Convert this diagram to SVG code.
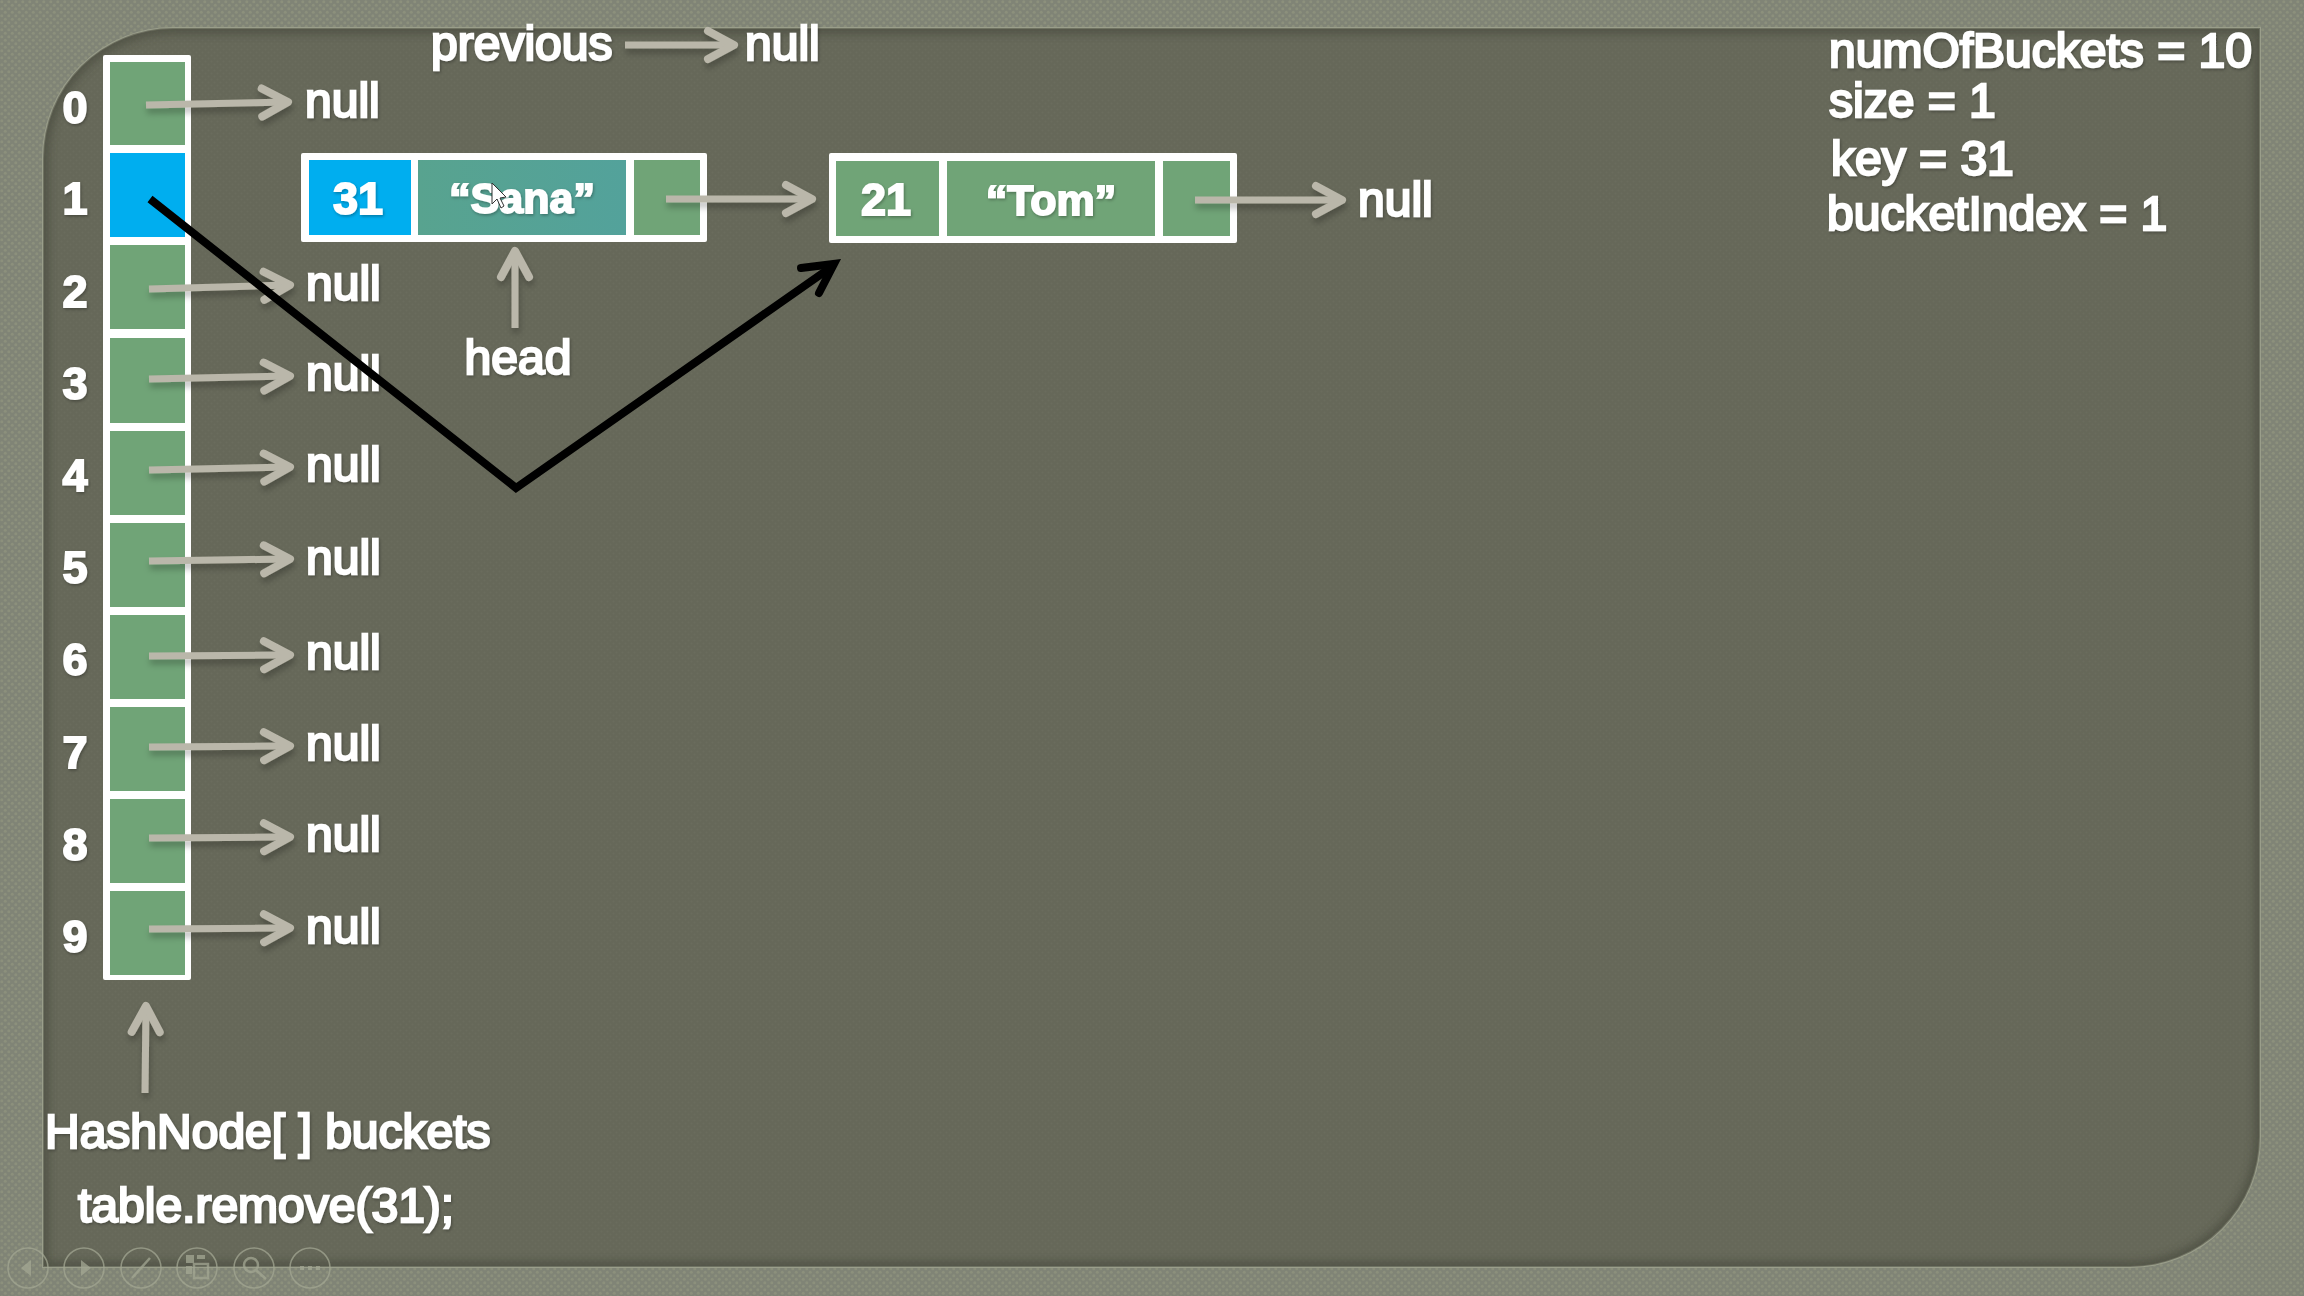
<svg xmlns="http://www.w3.org/2000/svg" width="2304" height="1296" viewBox="0 0 2304 1296">
<style>
text{font-family:"Liberation Sans",Arial,sans-serif;fill:#fff;stroke:#fff}
.t{font-size:48px;stroke-width:2.4px;filter:url(#ts)}
.b{font-size:45px;font-weight:700;stroke-width:1.8px;text-anchor:middle;filter:url(#ts)}
.n{font-size:43px}
.m{text-anchor:middle}
.g{fill:#70a477}
.bl{fill:#00aeef}
.w{fill:#fff}
.a{fill:none;stroke:#bab7aa;stroke-width:7;marker-end:url(#ah)}
.k{fill:none;stroke:#000;stroke-width:8;stroke-linejoin:miter}
.tb circle{fill:none;stroke:#a3a793;stroke-width:1.5}
.tb .i{fill:#a3a793;stroke:none}
.tb .l{fill:none;stroke:#a3a793;stroke-width:2.5}
</style>
<defs>
<pattern id="fp" width="7" height="7" patternUnits="userSpaceOnUse"><rect width="7" height="7" fill="#808476"/><circle cx="1.8" cy="1.8" r="1.5" fill="#8c907c"/><circle cx="5.3" cy="5.3" r="1.5" fill="#8c907c"/></pattern>
<pattern id="pp" width="6" height="6" patternUnits="userSpaceOnUse"><rect width="6" height="6" fill="#666859"/><circle cx="1.5" cy="1.5" r="1" fill="#6a6c5d"/><circle cx="4.5" cy="4.5" r="1" fill="#6a6c5d"/></pattern>
<linearGradient id="sg" x1="0" y1="0" x2="1" y2="0"><stop offset="0" stop-color="#58a38f"/><stop offset="1" stop-color="#53a29b"/></linearGradient>
<filter id="ts" x="-10%" y="-20%" width="120%" height="140%"><feDropShadow dx="1" dy="1.5" stdDeviation="1.5" flood-color="#000" flood-opacity=".3"/></filter>
<filter id="as" x="-10%" y="-50%" width="125%" height="200%"><feDropShadow dx="1" dy="5" stdDeviation="3" flood-color="#000" flood-opacity=".25"/></filter>
<filter id="bs" x="-10%" y="-10%" width="120%" height="120%"><feGaussianBlur stdDeviation="5"/></filter>
<clipPath id="pc"><path d="M173 28H2260V1137A130 130 0 0 1 2130 1267H43V158A130 130 0 0 1 173 28Z"/></clipPath>
<marker id="ah" markerUnits="userSpaceOnUse" markerWidth="44" markerHeight="44" refX="34" refY="22" orient="auto" overflow="visible"><path d="M8 8L34 22L8 36" fill="none" stroke="#bab7aa" stroke-width="8" stroke-linecap="round" stroke-linejoin="round"/></marker>
</defs>
<g id="background">
<rect width="2304" height="1296" fill="url(#fp)"/>
<path d="M173 28H2260V1137A130 130 0 0 1 2130 1267H43V158A130 130 0 0 1 173 28Z" fill="url(#pp)" stroke="#9a9e8b" stroke-width="2"/>
<g clip-path="url(#pc)"><path d="M173 28H2260V1137A130 130 0 0 1 2130 1267H43V158A130 130 0 0 1 173 28Z" fill="none" stroke="#45473b" stroke-width="10" filter="url(#bs)" opacity=".7"/></g>
</g>
<g id="buckets">
<rect class="w" x="103" y="55" width="88" height="925" rx="2"/>
</g>
<g id="bucket-0"><rect class="g" x="110" y="62" width="75" height="83"/><text class="b" x="75" y="123">0</text><text class="t" x="305" y="117">null</text></g>
<g id="bucket-1"><rect class="bl" x="110" y="153" width="75" height="84"/><text class="b" x="75" y="214">1</text></g>
<g id="bucket-2"><rect class="g" x="110" y="245" width="75" height="84"/><text class="b" x="75" y="307">2</text><text class="t" x="306" y="300">null</text></g>
<g id="bucket-3"><rect class="g" x="110" y="338" width="75" height="85"/><text class="b" x="75" y="399">3</text><text class="t" x="306" y="390">null</text></g>
<g id="bucket-4"><rect class="g" x="110" y="431" width="75" height="84"/><text class="b" x="75" y="491">4</text><text class="t" x="306" y="481">null</text></g>
<g id="bucket-5"><rect class="g" x="110" y="523" width="75" height="84"/><text class="b" x="75" y="583">5</text><text class="t" x="306" y="574">null</text></g>
<g id="bucket-6"><rect class="g" x="110" y="615" width="75" height="84"/><text class="b" x="75" y="675">6</text><text class="t" x="306" y="669">null</text></g>
<g id="bucket-7"><rect class="g" x="110" y="707" width="75" height="84"/><text class="b" x="75" y="768">7</text><text class="t" x="306" y="760">null</text></g>
<g id="bucket-8"><rect class="g" x="110" y="799" width="75" height="84"/><text class="b" x="75" y="860">8</text><text class="t" x="306" y="851">null</text></g>
<g id="bucket-9"><rect class="g" x="110" y="891" width="75" height="84"/><text class="b" x="75" y="952">9</text><text class="t" x="306" y="943">null</text></g>
<g id="node-31">
<rect class="w" x="301" y="153" width="406" height="89" rx="2"/>
<rect class="bl" x="309" y="160" width="102" height="75"/>
<rect fill="url(#sg)" x="418" y="160" width="208" height="75"/>
<rect class="g" x="634" y="160" width="66" height="75"/>
<text class="b" x="358" y="214">31</text>
<text class="b n" x="522" y="213">“Sana”</text>
</g>
<g id="node-21">
<rect class="w" x="829" y="153" width="408" height="90" rx="2"/>
<rect class="g" x="836" y="161" width="103" height="75"/>
<rect class="g" x="947" y="161" width="208" height="75"/>
<rect class="g" x="1163" y="161" width="67" height="75"/>
<text class="b" x="886" y="215">21</text>
<text class="b n" x="1051" y="215">“Tom”</text>
</g>
<g id="null-21"><text class="t" x="1358" y="216">null</text></g>
<g id="previous"><text class="t" x="431" y="60">previous</text><text class="t" x="745" y="60">null</text></g>
<g id="head"><text class="t m" x="518" y="374">head</text></g>
<g id="buckets-label"><text class="t" x="45" y="1148">HashNode[ ] buckets</text></g>
<g id="call-label"><text class="t" x="78" y="1222">table.remove(31);</text></g>
<g id="variables">
<text class="t" x="1829" y="67">numOfBuckets = 10</text>
<text class="t" x="1829" y="117">size = 1</text>
<text class="t" x="1831" y="175">key = 31</text>
<text class="t" x="1827" y="230">bucketIndex = 1</text>
</g>
<g id="connectors">
<g filter="url(#as)">
<path class="a" d="M146 105L288 102"/>
<path class="a" d="M149 289L290 285"/>
<path class="a" d="M149 379L290 376"/>
<path class="a" d="M149 470L290 467"/>
<path class="a" d="M149 561L290 559"/>
<path class="a" d="M149 656L290 655"/>
<path class="a" d="M149 747L290 746"/>
<path class="a" d="M149 838L290 837"/>
<path class="a" d="M149 929L290 928"/>
<path class="a" d="M625 45L734 45"/>
<path class="a" d="M666 199L812 199"/>
<path class="a" d="M1195 200L1342 200"/>
<path class="a" d="M515 328L515 251"/>
<path class="a" d="M145 1093L146 1006"/>
</g>
<path class="k" d="M150 199L516 488L830 268"/>
<path class="k" d="M801 268L834 264L819 293" stroke-linecap="round"/>
</g>
<g id="cursor"><path d="M492 183L492 204L497 199L501 208L504 206L500 198L506 197Z" fill="#fff" stroke="#333" stroke-width="1"/></g>
<g id="toolbar" class="tb" opacity=".75">
<circle cx="28" cy="1268" r="20"/><path class="i" d="M21 1268L31 1260V1276Z"/>
<circle cx="84" cy="1268" r="20"/><path class="i" d="M81 1260L91 1268L81 1276Z"/>
<circle cx="141" cy="1268" r="20"/><path class="l" d="M132 1278L150 1258"/>
<circle cx="197" cy="1268" r="20"/><path class="i" d="M186 1255H194V1263H186ZM197 1255H205V1259H197ZM186 1266H192V1274H186Z"/><rect class="l" x="194" y="1264" width="14" height="14"/>
<circle cx="254" cy="1268" r="20"/><circle class="l" cx="251" cy="1265" r="7"/><path class="l" d="M256 1270L266 1279"/>
<circle cx="310" cy="1268" r="20"/><g class="i"><rect x="300" y="1266" width="4" height="4"/><rect x="308" y="1266" width="4" height="4"/><rect x="316" y="1266" width="4" height="4"/></g>
</g>
</svg>
